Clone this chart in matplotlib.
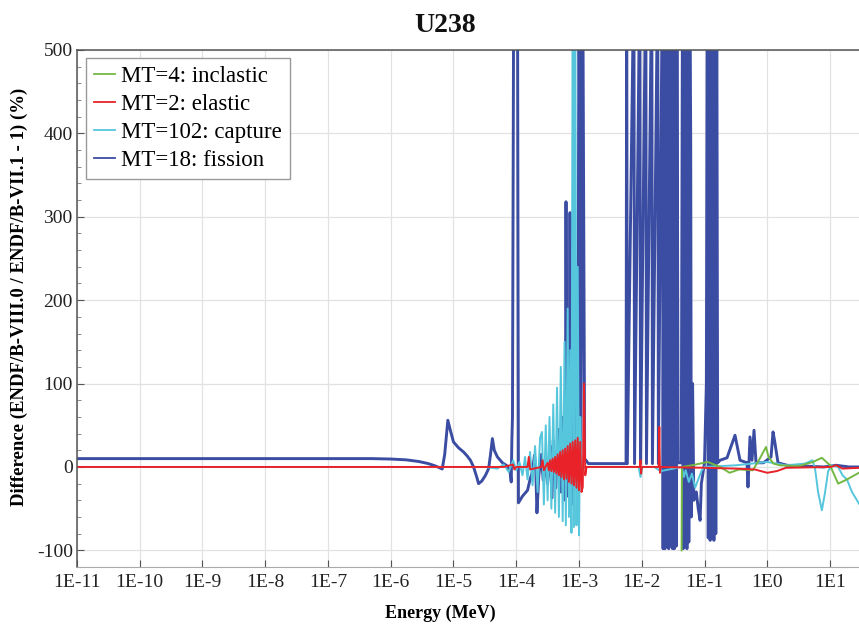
import numpy as np
import matplotlib
matplotlib.use("Agg")
import matplotlib.pyplot as plt

plt.rcParams['font.family'] = ['Liberation Serif', 'DejaVu Serif']
plt.rcParams['axes.unicode_minus'] = False

# log10(E / MeV) and difference (%)
fis_loge = [-11, -6.3, -6.0, -5.75, -5.55, -5.4, -5.3, -5.22, -5.18, -5.14, -5.09, -5.05, -5.0,
            -4.92, -4.84, -4.78, -4.73, -4.68, -4.63, -4.6, -4.55, -4.49, -4.44, -4.41, -4.38,
            -4.35, -4.3, -4.22, -4.14, -4.1, -4.08, -4.07, -4.06, -4.04, -4.02, -3.98, -3.965,
            -3.9, -3.82, -3.78, -3.74, -3.71, -3.69, -3.67, -3.64, -3.6, -3.57, -3.54, -3.5,
            -3.46, -3.43, -3.41, -3.37, -3.33, -3.29, -3.25, -3.22, -3.207, -3.19, -3.16, -3.143,
            -3.12, -3.06, -3.02, -3.0, -2.97, -2.94, -2.91, -2.85, -2.25,
            -2.24, -2.23, -2.125, -2.115, -2.03, -2.02, -1.935, -1.925, -1.84, -1.83, -1.745, -1.735,
            -1.67, -1.66, -1.645, -1.63, -1.615, -1.6, -1.585, -1.57, -1.555, -1.54, -1.525, -1.51,
            -1.495, -1.48, -1.465, -1.45, -1.44, -1.42, -1.37,
            -1.35, -1.34, -1.325, -1.31, -1.295, -1.28, -1.265, -1.25, -1.235, -1.22, -1.21, -1.19,
            -1.17, -1.13, -1.1, -1.07, -1.05, -1.0, -0.97, -0.955, -0.94, -0.925, -0.91, -0.895,
            -0.88, -0.865, -0.85, -0.835, -0.82, -0.805, -0.79, -0.753, -0.641, -0.514, -0.434,
            -0.323, -0.307, -0.291, -0.275, -0.243, -0.211, -0.179, -0.06, 0.06, 0.092, 0.12,
            0.171, 0.315, 0.6, 0.9, 1.1, 1.3, 1.47]
fis_val = [10, 10, 9.5, 8.5, 6.5, 4, 1.5, -1, -2.5, 15, 56, 44, 30,
           23, 18, 13, 8, 0, -12, -20, -17, -10, -2, 15, 34,
           20, 12, 5, 1, -5, -18, 30, 60, 600, 600, 600, -43,
           -35, -28, -15, -5, 14, 0, -55, -10, 15, -16, 5, -20,
           25, -37, 32, -25, 45, -30, 60, -40, 318, -35, 50, 305,
           -45, 80, -30, 600, 20, 600, 10, 4, 4,
           600, 4, 600, 4, 600, 4, 600, 4, 600, 4, 600, 4,
           600, -98, 600, -98, 600, -95, 600, -98, 600, -95, 600, -98,
           600, -98, 600, -95, 600, 5, 5,
           600, -98, 600, -95, 600, -98, 600, -90, 600, 396, -60, 100,
           -40, -30, -50, -64, -20, 5, 100, 600, -85, 600, -88, 600,
           -85, 600, -88, 600, -80, 600, 5, 8, 11, 38, 8,
           5, -24, 5, 36, 8, 44, 5, 5, 12, 42, 30,
           5, 2, 1, 0, 2, 0, 0]

cap_loge = [-11, -5.0, -4.5, -4.3, -4.2, -4.12, -4.05, -4.0, -3.95, -3.9, -3.86, -3.82, -3.78,
            -3.74, -3.7, -3.66, -3.62, -3.59, -3.56, -3.53, -3.5, -3.47, -3.44, -3.41, -3.38,
            -3.35, -3.32, -3.29, -3.26, -3.23, -3.21, -3.18, -3.16, -3.14, -3.12, -3.1, -3.08,
            -3.06, -3.04, -3.02, -3.0, -2.98, -2.96, -2.93, -2.5, -2.05, -2.02, -1.99, -1.8, -1.7,
            -1.36, -1.33, -1.3, -1.25, -1.2, -1.15, -1.1, -1.05, -1.0, -0.5, 0.0, 0.3, 0.6, 0.72,
            0.76, 0.81, 0.87, 0.92, 0.97, 1.03, 1.13, 1.2, 1.27, 1.35, 1.47]
cap_val = [0, 0, 0, -2, 3, -6, 8, -4, 6, -10, 12, -15, 18,
           -22, 25, -30, 35, 42, -45, 50, -40, 60, -50, 75, -55,
           95, -60, 120, -65, 150, -70, 190, -60, 140, -79, 600, -72,
           600, -70, 240, -82, 60, -10, 0, 0, 0, -12, 0, 0, -5,
           0, -12, -4, -18, -8, -25, -15, -5, 0, 2, 6, 2, 4, 8,
           -1, -30, -52, -31, -5, 2, 0, -10, -15, -30, -45]

ela_loge = [-11, -4.2, -4.05, -4.03, -4.0, -3.82, -3.8, -3.78, -3.6, -3.58, -3.56,
            -3.50, -3.48, -3.46, -3.44, -3.42, -3.40, -3.38, -3.36, -3.34, -3.32, -3.30, -3.28,
            -3.26, -3.24, -3.22, -3.20, -3.18, -3.16, -3.14, -3.12, -3.10, -3.08, -3.06, -3.04,
            -3.02, -3.00, -2.98, -2.96, -2.94, -2.92, -2.90, -2.88, -2.5, -2.03, -2.02, -2.01,
            -2.0, -1.73, -1.72, -1.71, -1.7, -1.0, -0.5, -0.2, 0.0, 0.15, 0.3, 1.0, 1.1, 1.2, 1.47]
ela_val = [0, 0, 3, -3, 0, 0, 12, -3, 0, 8, -4,
           5, -4, 8, -5, 10, -6, 12, -8, 15, -10, 18, -12,
           20, -15, 22, -14, 25, -18, 28, -20, 30, -22, 32, -25,
           35, -28, 30, -30, -24, 100, -10, 0, 0, 0, 8, -8,
           0, 0, 48, -7, 0, -1, -2, -3, -7, -5, -1, 0, 2, -2, -1]

ine_loge = [-1.365, -1.36, -1.2, -0.95, -0.75, -0.6, -0.45, -0.23, -0.12, -0.02, 0.02, 0.1,
            0.2, 0.5, 0.73, 0.87, 1.0, 1.13, 1.27, 1.46]
ine_val = [-100, 0, 2, 6, 0, -7, -3, -4, 10, 24, 12, 4,
           2, 1, 6, 11, 2, -20, -15, -7]

tick_loge = list(range(-11, 2))
tick_labels = ['1E-11', '1E-10', '1E-9', '1E-8', '1E-7', '1E-6', '1E-5', '1E-4', '1E-3',
               '1E-2', '1E-1', '1E0', '1E1']

fig = plt.figure(figsize=(8.59, 6.24), dpi=100)
ax = fig.add_axes([0.0896, 0.0913, 0.9104, 0.8286])

l_fis, = ax.plot(10.0 ** np.array(fis_loge), fis_val, color='#3b4ca3', lw=2.1)
l_cap, = ax.plot(10.0 ** np.array(cap_loge), cap_val, color='#55c6dc', lw=1.4)
l_ine, = ax.plot(10.0 ** np.array(ine_loge), ine_val, color='#74b843', lw=1.4)
l_ela, = ax.plot(10.0 ** np.array(ela_loge), ela_val, color='#e82228', lw=1.4)

ax.set_xscale('log')
ax.set_xlim(1e-11, 10 ** 1.462)
ax.set_ylim(-120, 500)
ax.set_xticks([10.0 ** t for t in tick_loge])
ax.set_xticklabels(tick_labels)
ax.xaxis.set_minor_locator(matplotlib.ticker.NullLocator())
ax.set_yticks(range(-100, 501, 100))
ax.yaxis.set_minor_locator(matplotlib.ticker.MultipleLocator(20))
ax.tick_params(axis='both', which='major', labelsize=14, direction='in', length=5,
               color='#555555', labelcolor='#222222')
ax.tick_params(axis='x', pad=5)
ax.tick_params(axis='y', pad=3)
ax.tick_params(axis='y', which='minor', direction='in', length=3, color='#777777')
ax.grid(True, which='major', color='#e2e2e2', lw=0.9)
ax.set_axisbelow(True)

for s in ['left', 'top']:
    ax.spines[s].set_color('#555555')
    ax.spines[s].set_linewidth(1.1)
ax.spines['bottom'].set_color('#aaaaaa')
ax.spines['right'].set_visible(False)

ax.set_title('U238', fontsize=20, fontweight='bold', pad=13, color='#111111')
ax.title.set_x(0.471)
ax.set_xlabel('Energy (MeV)', fontsize=13, fontweight='bold', labelpad=5)
ax.xaxis.set_label_coords(0.464, -0.072)
ax.set_ylabel('Difference (ENDF/B-VIII.0 / ENDF/B-VII.1 - 1) (%)', fontsize=13.5,
              fontweight='bold')
ax.yaxis.set_label_coords(-0.062, 0.522)

leg = ax.legend([l_ine, l_ela, l_cap, l_fis],
                ['MT=4: inclastic', 'MT=2: elastic', 'MT=102: capture', 'MT=18: fission'],
                loc='upper left', bbox_to_anchor=(0.0115, 0.985), borderaxespad=0,
                fontsize=16.5, handlelength=0.9, handletextpad=0.3, labelspacing=0.3,
                borderpad=0.35, fancybox=False, framealpha=1, edgecolor='#999999')
leg.get_frame().set_linewidth(1.0)
for h in leg.get_lines():
    h.set_linewidth(1.3)

fig.savefig('out.png', dpi=100)
